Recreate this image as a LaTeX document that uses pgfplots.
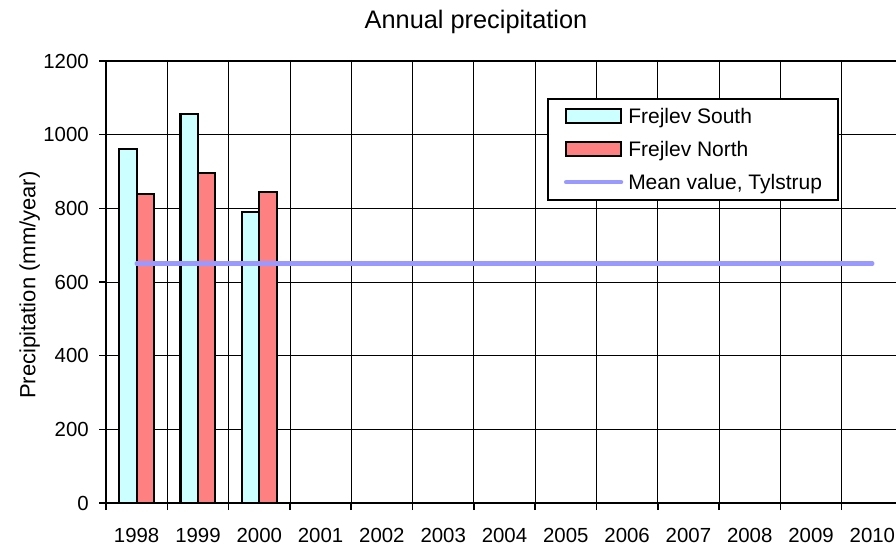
\documentclass[border=0pt]{standalone}
\usepackage{pgfplots}
\pgfplotsset{compat=1.18}
\usepackage{fontspec}
\setmainfont{Liberation Sans}

\definecolor{southfill}{HTML}{CCFFFF}
\definecolor{northfill}{HTML}{FF8080}
\definecolor{meanline}{HTML}{9999FF}

\pgfplotsset{
    barlegend/.style={legend image code/.code={\draw[##1] (0pt,-5.25pt) rectangle (41.25pt,5.25pt);}},
    linelegend/.style={legend image code/.code={\draw[##1] (0pt,0pt) -- (41.25pt,0pt);}},
}

\begin{document}
\begin{tikzpicture}
\begin{axis}[
    at={(0pt,0pt)}, anchor=south west,
    scale only axis, width=597.75pt, height=331.5pt,
    xmin=-0.5, xmax=12.5,
    ymin=0, ymax=1200,
    xtick={-0.5,0.5,...,12.5},
    x tick label as interval,
    xticklabels={1998,1999,2000,2001,2002,2003,2004,2005,2006,2007,2008,2009,2010},
    ytick={0,200,...,1200},
    tick align=outside, tick pos=left,
    major tick length=5.25pt,
    tick style={black, line width=1.2pt},
    grid=major,
    grid style={black, line width=0.6pt},
    axis line style={black, line width=1.5pt},
    ticklabel style={font=\fontsize{15.3}{18}\selectfont},
    /pgf/number format/assume math mode=true,
    /pgf/number format/1000 sep={},
    yticklabel style={inner sep=0pt, xshift=-7.5pt},
    xticklabel style={inner sep=0pt, yshift=-13.5pt},
    legend cell align=left,
    legend style={at={(axis description cs:0.5533,0.9163)}, anchor=north west,
        draw=black, line width=1.5pt, inner xsep=12pt, inner ysep=5.2pt,
        row sep=9pt, column sep=3.75pt,
        font=\fontsize{15.75}{18}\selectfont,
        nodes={inner sep=0pt, text height=13.5pt, text depth=2.2pt}},
]

% Frejlev South
\addplot[ybar, bar width=13.1pt, bar shift=-6.55pt, fill=southfill, draw=black, line width=1.6pt, barlegend]
    coordinates {(0,962) (1,1057) (2,790)};
\addlegendentry{Frejlev South}

% Frejlev North
\addplot[ybar, bar width=13.1pt, bar shift=6.55pt, fill=northfill, draw=black, line width=1.6pt, barlegend]
    coordinates {(0,838) (1,895) (2,845)};
\addlegendentry{Frejlev North}

% mean value Tylstrup
\addplot[meanline, line width=3.2pt, line cap=round, mark=none, linelegend]
    coordinates {(0,650) (12,650)};
\addlegendentry{Mean value, Tylstrup}

\end{axis}

\node[anchor=base, font=\fontsize{19}{22}\selectfont] at (277.5pt,356pt) {Annual precipitation};
\node[rotate=90, anchor=base, font=\fontsize{16.5}{19}\selectfont] at (-53pt,163.5pt) {Precipitation (mm/year)};

\pgfresetboundingbox
\path[use as bounding box] (-79.5pt,-33pt) rectangle (592.5pt,377.25pt);
\end{tikzpicture}
\end{document}
